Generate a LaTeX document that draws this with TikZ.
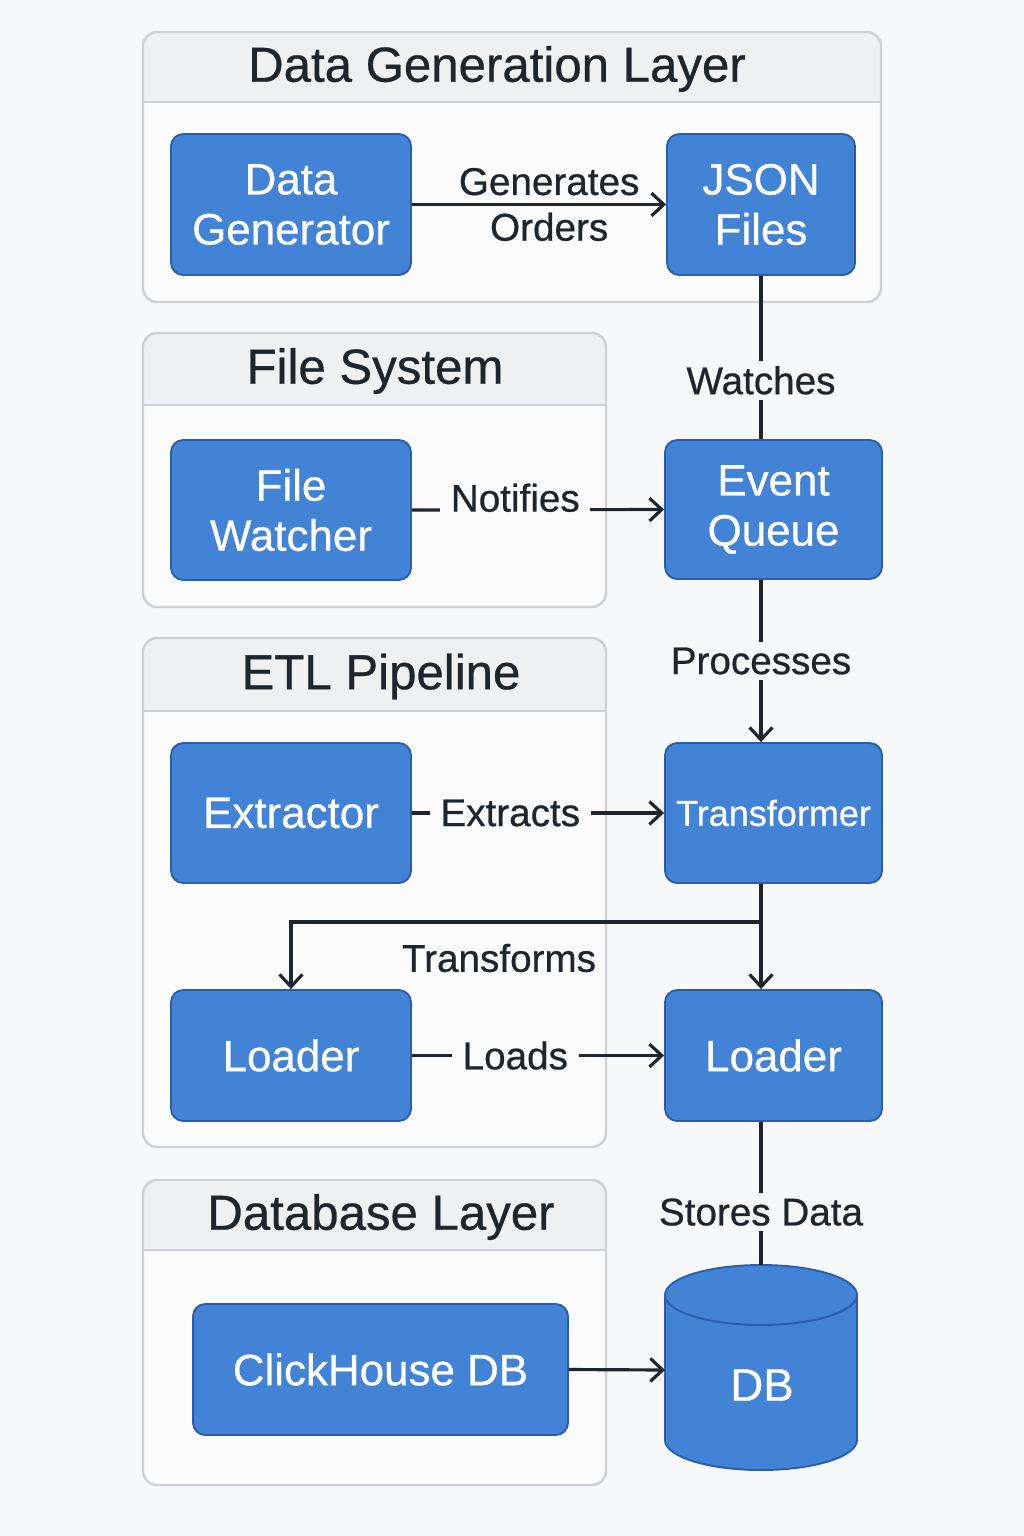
\documentclass[tikz,border=0pt]{standalone}
\usepackage{fontspec}
\setmainfont[FakeBold=0.6]{Liberation Sans}
\usetikzlibrary{arrows.meta, positioning, calc}

\definecolor{pagebg}{HTML}{F7F8F9}
\definecolor{layerbody}{HTML}{FBFBFB}
\definecolor{layerhead}{HTML}{EFF0F2}
\definecolor{layerline}{HTML}{CDD1D5}
\definecolor{boxblue}{HTML}{4383D6}
\definecolor{boxedge}{HTML}{2A5EAD}
\definecolor{ink}{HTML}{1E252C}

\tikzset{
  comp/.style={draw=boxedge, fill=boxblue, line width=1.1pt, rounded corners=7pt,
    text=white, align=center, font=\fontsize{25}{28.5}\selectfont, inner sep=0pt},
  conn/.style={draw=ink, line width=1.8pt, -{Straight Barb[length=7pt,width=13pt]}},
  link/.style={draw=ink, line width=1.8pt},
  lbl/.style={fill=pagebg, text=ink, font=\fontsize{22}{26}\selectfont, inner xsep=6pt, inner ysep=3pt},
  inlbl/.style={lbl, fill=layerbody},
  layertitle/.style={text=ink, font=\fontsize{28}{31}\selectfont},
}

\begin{document}
\begin{tikzpicture}[x=0.02cm, y=0.02cm]
  % page
  \fill[pagebg] (0,0) rectangle (1024,-1536);

  % layers: left/top/right/bottom/header line/title x/title
  \foreach \xa/\ya/\xb/\yb/\yh/\tx/\ttl [count=\i] in {
      143/32/881/302/102/497/Data Generation Layer,
      143/333/606/607/405/375/File System,
      143/638/606/1147/711/381/ETL Pipeline,
      143/1180/606/1485/1250/381/Database Layer} {
    \begin{scope}
      \clip[rounded corners=8pt] (\xa,-\ya) rectangle (\xb,-\yb);
      \fill[layerbody] (\xa,-\ya) rectangle (\xb,-\yb);
      \fill[layerhead] (\xa,-\ya) rectangle (\xb,-\yh);
    \end{scope}
    \draw[layerline, line width=1.3pt] (\xa,-\yh) -- (\xb,-\yh);
    \draw[layerline, line width=1.4pt, rounded corners=8pt] (\xa,-\ya) rectangle (\xb,-\yb);
    \node[layertitle] (title\i) at (\tx, {-(\ya+\yh)/2-2}) {\ttl};
  }

  % components
  \node[comp, minimum width=4.8cm, minimum height=2.82cm] (gen) at (291,-204.5) {Data\\Generator};
  \node[comp, minimum width=3.76cm, minimum height=2.82cm] (json) at (761,-204.5) {JSON\\Files};
  \node[comp, minimum width=4.8cm, minimum height=2.8cm] (watch) at (291,-510) {File\\Watcher};
  \node[comp, minimum width=4.34cm, minimum height=2.78cm] (queue) at (773.5,-509.5) {Event\\Queue};
  \node[comp, minimum width=4.8cm, minimum height=2.8cm] (extr) at (291,-813) {Extractor};
  \node[comp, minimum width=4.34cm, minimum height=2.8cm, font=\fontsize{20.5}{24}\selectfont] (trans) at (773.5,-813) {Transformer};
  \node[comp, minimum width=4.8cm, minimum height=2.62cm] (ldrA) at (291,-1055.5) {Loader};
  \node[comp, minimum width=4.34cm, minimum height=2.62cm] (ldrB) at (773.5,-1055.5) {Loader};
  \node[comp, minimum width=7.5cm, minimum height=2.62cm] (ch) at (380.5,-1369.5) {ClickHouse DB};

  % database cylinder
  \filldraw[fill=boxblue, draw=boxedge, line width=1.1pt]
    (665,-1295) -- (665,-1440) arc[start angle=180, end angle=360, x radius=96, y radius=30]
    -- (857,-1295) arc[start angle=0, end angle=180, x radius=96, y radius=30] -- cycle;
  \draw[boxedge, line width=1.1pt] (665,-1295) arc[start angle=180, end angle=360, x radius=96, y radius=30];
  \node[text=white, font=\fontsize{26}{30}\selectfont] (db) at (762,-1385) {DB};
  \coordinate (dbtop) at (761,-1265);
  \coordinate (dbleft) at (665,-1370);

  % connectors
  \coordinate (spine) at (761,0);
  \coordinate (split) at (761,-922);
  \draw[conn] (gen.east) -- node[lbl, fill=none, align=center, pos=0.54] (lblgen) {Generates\\Orders} (json.west);
  \draw[link] (json.south -| spine) -- node[lbl, pos=0.64] (lblwatch) {Watches} (queue.north -| spine);
  \draw[conn] (watch.east) -- node[inlbl, pos=0.41, yshift=0.24cm] (lblnotify) {Notifies} (queue.west);
  \draw[conn] (queue.south -| spine) -- node[lbl, pos=0.5] (lblproc) {Processes} (trans.north -| spine);
  \draw[conn] (extr.east) -- node[inlbl, pos=0.39] (lblextr) {Extracts} (trans.west);
  \draw[conn] (trans.south -| spine) -- (ldrB.north -| spine);
  \draw[conn] (split) -| (ldrA.north);
  \node[lbl, fill=none] (lbltrans) at (499,-958) {Transforms};
  \draw[conn] (ldrA.east) -- node[inlbl, pos=0.41] (lblload) {Loads} (ldrB.west);
  \draw[link] (ldrB.south -| spine) -- node[lbl, pos=0.63] (lblstore) {Stores Data} (dbtop);
  \draw[conn] (ch.east) -- (dbleft);
\end{tikzpicture}
\end{document}
